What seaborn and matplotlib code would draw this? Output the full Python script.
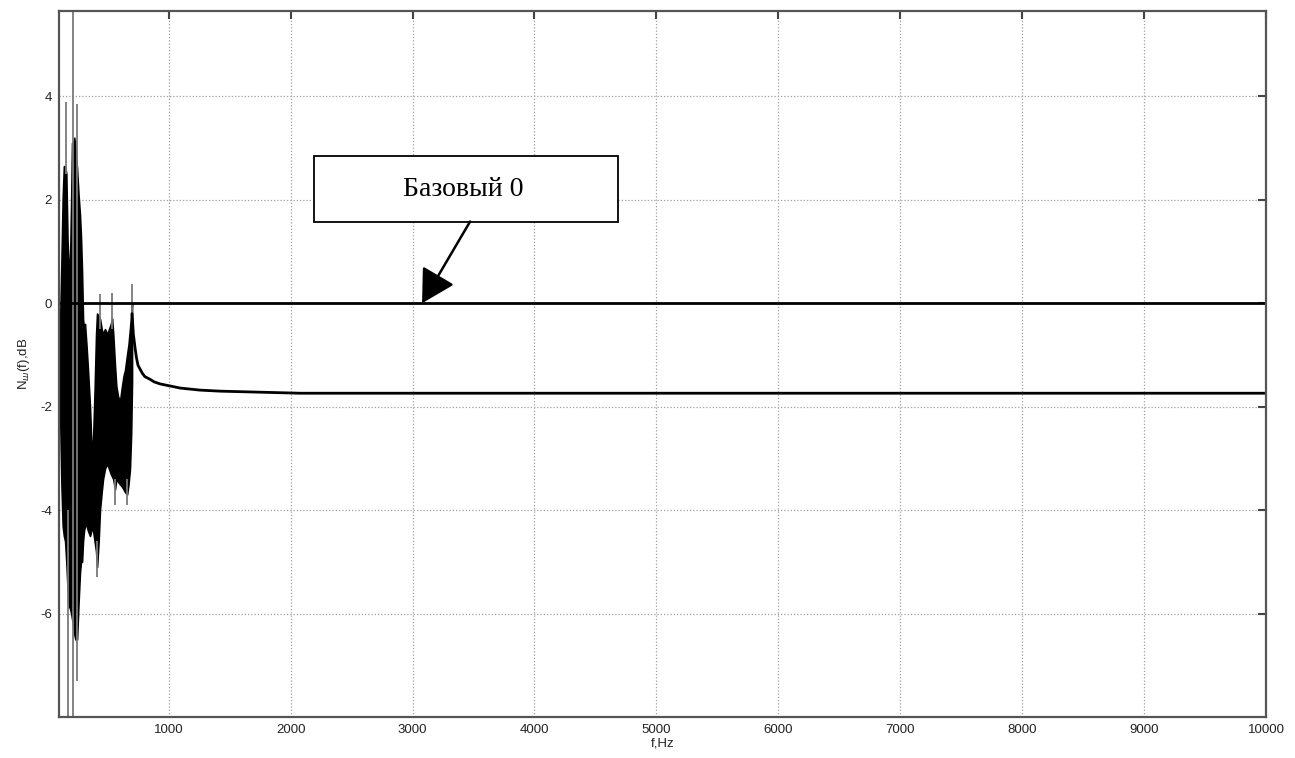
import numpy as np
import pandas as pd
import matplotlib
matplotlib.use("Agg")
import matplotlib.pyplot as plt
import seaborn as sns
from matplotlib.patches import Rectangle

# ---------------- data ----------------
# dense oscillating part: upper / lower envelope, Hz and dB
env_f = [108, 120, 130, 140, 150, 160, 170, 180, 190, 200, 207, 215, 225, 235, 248,
         260, 272, 280, 289, 297, 305, 313, 325, 338, 354, 365, 371, 380, 392, 404,
         412, 425, 436, 450, 461, 477, 495, 510, 525, 535, 545, 559, 570, 584, 600,
         617, 630, 641, 658, 670, 682, 692, 699]
env_hi = [-0.5, 0.8, 2.0, 2.65, 2.65, 2.5, 1.2, 0.7, 0.7, 2.0, 3.1, 3.1, 3.2, 3.0, 2.6,
          2.1, 1.7, 1.3, 0.6, -0.3, -0.5, -0.4, -0.8, -1.3, -2.0, -2.7, -2.9, -2.6, -1.7, -0.6,
          -0.2, -0.25, -0.3, -0.5, -0.6, -0.5, -0.6, -0.5, -0.4, -0.3, -0.6, -1.2, -1.6, -1.8, -1.9,
          -1.6, -1.4, -1.3, -1.0, -0.8, -0.5, -0.2, 0.0]
env_lo = [-2.0, -3.5, -4.3, -4.5, -4.6, -5.0, -5.5, -5.85, -5.9, -6.0, -6.1, -6.2, -6.4, -6.5, -6.5,
          -5.8, -5.2, -5.0, -5.0, -4.6, -4.4, -4.3, -4.3, -4.4, -4.5, -4.4, -4.3, -4.4, -4.6, -4.8,
          -5.1, -4.6, -4.0, -3.65, -3.4, -3.2, -3.1, -3.2, -3.3, -3.35, -3.4, -3.6, -3.4, -3.45, -3.5,
          -3.55, -3.6, -3.65, -3.7, -3.5, -3.2, -2.5, -1.5]

# thin grey spikes: frequency, low end, high end (dB)
spike_f = [160, 174, 215, 245, 412, 436, 535, 559, 658, 699]
spike_lo = [2.5, -8.5, -8.5, -7.3, -5.3, -0.5, -0.5, -3.9, -3.9, -0.3]
spike_hi = [3.9, -4.0, 6.0, 3.85, -4.6, 0.17, 0.2, -3.4, -3.4, 0.38]

# smooth tail after the resonances
tail_f = [699, 710, 723, 735, 748, 764, 785, 805, 846, 880, 929, 1011, 1093, 1257,
          1421, 1749, 2077, 3000, 5000, 7000, 10000]
tail_y = [-0.2, -0.6, -0.85, -1.05, -1.2, -1.27, -1.36, -1.42, -1.47, -1.52, -1.56, -1.6,
          -1.64, -1.68, -1.7, -1.72, -1.74, -1.74, -1.74, -1.74, -1.74]

# baseline ("Базовый 0")
base_f = [100, 10000]
base_y = [0.0, 0.0]

x_ticks = [1000, 2000, 3000, 4000, 5000, 6000, 7000, 8000, 9000, 10000]
y_ticks = [-6, -4, -2, 0, 2, 4]

# ---------------- plot ----------------
sns.set_theme(style="white")
plt.rcParams['font.family'] = ['Liberation Sans', 'DejaVu Sans']

fig = plt.figure(figsize=(12.95, 7.58), dpi=100)
ax = fig.add_axes([59 / 1295, 1 - 717 / 758, (1266 - 59) / 1295, (717 - 11) / 758])

ax.grid(True, color="#a0a0a0", linestyle=(0, (1, 1.6)), linewidth=0.9)
ax.set_axisbelow(True)

ax.fill_between(env_f, env_lo, env_hi, color="black", linewidth=1.2)
ax.vlines(spike_f, spike_lo, spike_hi, color="#7a7a7a", linewidth=1.3)

tail_df = pd.DataFrame({"f": tail_f, "y": tail_y})
sns.lineplot(data=tail_df, x="f", y="y", ax=ax, color="black", linewidth=2.0)
base_df = pd.DataFrame({"f": base_f, "y": base_y})
sns.lineplot(data=base_df, x="f", y="y", ax=ax, color="black", linewidth=2.0)

ax.set_xlim(100, 10000)
ax.set_ylim(-8.0, 5.65)
ax.set_xticks(x_ticks)
ax.set_yticks(y_ticks)
ax.set_xticklabels([str(t) for t in x_ticks])
ax.set_yticklabels([str(t) for t in y_ticks])
ax.tick_params(axis="both", direction="in", length=6, width=1.5, color="#444444",
               labelsize=9.5, labelcolor="#222222", top=True, right=True, pad=5)
for s in ax.spines.values():
    s.set_color("#555555")
    s.set_linewidth(1.6)

ax.set_xlabel("f,Hz", fontsize=9.5, labelpad=1, color="#222222")
ax.set_ylabel("N$_{ш}$(f),dB", fontsize=9.5, labelpad=6, color="#222222")

# annotation box with arrow
box_x0, box_x1 = 2192, 4686
box_y0, box_y1 = 1.58, 2.84
ax.add_patch(Rectangle((box_x0, box_y0), box_x1 - box_x0, box_y1 - box_y0,
                       facecolor="white", edgecolor="black", linewidth=1.3, zorder=5))
ax.text(3414, 2.2, "Базовый 0", fontsize=20, family=["Liberation Serif", "DejaVu Serif"],
        ha="center", va="center", color="black", zorder=6)
ax.annotate("", xy=(3078, 0.0), xytext=(3472, 1.58),
            arrowprops=dict(arrowstyle="-|>,head_length=1.7,head_width=0.95",
                            color="black", lw=1.8, shrinkA=0, shrinkB=0), zorder=6)

fig.savefig("out.png", dpi=100)
